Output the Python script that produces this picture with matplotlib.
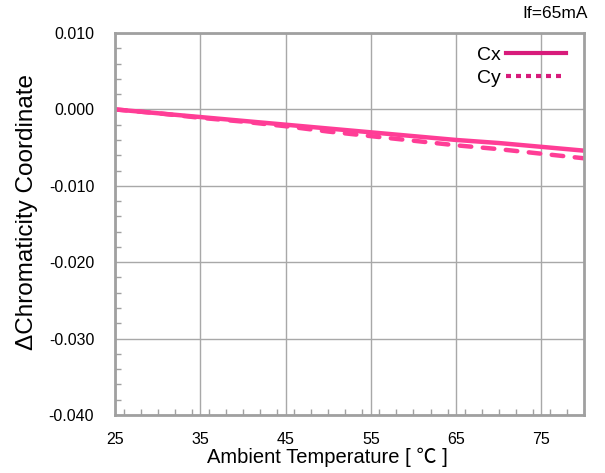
import numpy as np
import matplotlib
matplotlib.use("Agg")
import matplotlib.pyplot as plt
from matplotlib.ticker import MultipleLocator

plt.rcParams['font.family'] = ['Liberation Sans', 'Noto Sans CJK JP', 'DejaVu Sans']

# values
temp = [25, 30, 35, 40, 45, 50, 55, 60, 65, 70, 75, 80]
cx = [0.0, -0.0005, -0.0010, -0.0015, -0.0020, -0.0025,
      -0.0030, -0.0035, -0.0040, -0.0044, -0.0049, -0.0054]
cy = [0.0, -0.0005, -0.0011, -0.0016, -0.0022, -0.0029,
      -0.0035, -0.0041, -0.0047, -0.0052, -0.0058, -0.0064]
xticks = [25, 35, 45, 55, 65, 75]
yticks = [-0.040, -0.030, -0.020, -0.010, 0.000, 0.010]

line_col = "#ff3d96"
legend_col = "#d81b7b"
frame_col = "#a0a0a0"

fig = plt.figure(figsize=(6.05, 4.73), dpi=100)
ax = fig.add_axes([115 / 605, 1 - 415 / 473, 469 / 605, 382 / 473])

ax.plot(temp, cx, color=line_col, lw=3.2, solid_capstyle="butt")
ax.plot(temp, cy, color=line_col, lw=3.2, ls=(0, (2.6, 2.6)), dash_capstyle="round")

ax.set_xlim(25, 80)
ax.set_ylim(-0.040, 0.010)
ax.set_xticks(xticks)
ax.set_yticks(yticks)
ax.set_yticklabels([f"{v:.3f}" for v in yticks])
ax.xaxis.set_minor_locator(MultipleLocator(2))
ax.yaxis.set_minor_locator(MultipleLocator(0.002))
ax.tick_params(which="major", length=0, labelsize=11.5, colors="black")
ax.tick_params(which="minor", direction="in", length=4, color=frame_col, width=1)
ax.tick_params(axis="x", pad=12)
ax.tick_params(axis="y", pad=15)
ax.grid(True, which="major", color="#a8a8a8", lw=1)
ax.set_axisbelow(True)
for s in ax.spines.values():
    s.set_color(frame_col)
    s.set_linewidth(2)

ax.set_xlabel("Ambient Temperature [ ℃ ]", fontsize=14.5)
ax.set_ylabel("ΔChromaticity Coordinate", fontsize=17.5)
ax.xaxis.set_label_coords(0.452, -0.085)
ax.yaxis.set_label_coords(-0.165, 0.531)

fig.text(0.972, 0.955, "If=65mA", ha="right", va="bottom", fontsize=12.5)

# legend drawn with dedicated proxy lines
h1, = ax.plot([], [], color=legend_col, lw=3)
h2, = ax.plot([], [], color=legend_col, lw=3, ls=(0, (1.2, 1.2)))
ax.legend([h1, h2], ["Cx", "Cy"], loc="upper right", frameon=False,
          markerfirst=False, fontsize=14, handlelength=3.1, handletextpad=0.3,
          labelspacing=0.25, borderaxespad=0, bbox_to_anchor=(0.979, 0.985))

fig.savefig("out.png", dpi=100)
